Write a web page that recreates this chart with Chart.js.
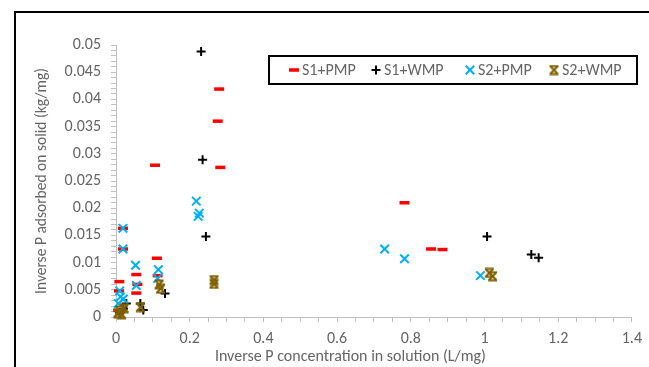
<!DOCTYPE html>
<html>
<head>
<meta charset="utf-8">
<script src="https://cdn.jsdelivr.net/npm/chart.js@4"></script>
<style>
	body { margin: 0; background: #fff; overflow: hidden; }
	#wrap { position: relative; width: 649px; height: 367px; overflow: hidden; }
	#frame { position: absolute; left: 14px; top: 11px; width: 700px; height: 400px; border-left: 2px solid #000; border-top: 2px solid #000; }
	#chart { position: absolute; left: 0; top: 0; }
</style>
</head>
<body>
<div id="wrap">
	<div id="frame"></div>
	<canvas id="chart" width="649" height="367"></canvas>
</div>
<script>
// series (x = 1/C, y = 1/q)
const seriesNames = ["S1+PMP", "S1+WMP", "S2+PMP", "S2+WMP"];

const s1pmpX = [0.280, 0.276, 0.283, 0.106, 0.783, 0.855, 0.886, 0.111, 0.113, 0.055, 0.058, 0.055, 0.009, 0.008, 0.019, 0.019, 0.006];
const s1pmpY = [0.0419, 0.0360, 0.0275, 0.0279, 0.0210, 0.0125, 0.0124, 0.0108, 0.0076, 0.0078, 0.0060, 0.0044, 0.0065, 0.0048, 0.0163, 0.0125, 0.0012];

const s1wmpX = [0.231, 0.235, 0.244, 1.007, 1.127, 1.147, 0.133, 0.066, 0.074, 0.028, 0.010, 0.020];
const s1wmpY = [0.0488, 0.0289, 0.0148, 0.0148, 0.0115, 0.0109, 0.0043, 0.0025, 0.0013, 0.0025, 0.0008, 0.0015];

const s2pmpX = [0.218, 0.226, 0.223, 0.729, 0.783, 0.989, 0.019, 0.019, 0.053, 0.055, 0.115, 0.113, 0.010, 0.012, 0.020, 0.006];
const s2pmpY = [0.0213, 0.0191, 0.0185, 0.0125, 0.0107, 0.0076, 0.0163, 0.0125, 0.0095, 0.0058, 0.0087, 0.0071, 0.0048, 0.0037, 0.0033, 0.0025];

const s2wmpX = [0.266, 0.266, 1.013, 1.022, 0.117, 0.121, 0.066, 0.010, 0.022, 0.005, 0.015];
const s2wmpY = [0.0068, 0.0061, 0.0081, 0.0075, 0.0060, 0.0052, 0.0018, 0.0012, 0.0016, 0.0007, 0.0005];

const xMajorTicks = [0, 0.2, 0.4, 0.6, 0.8, 1, 1.2, 1.4];
const yMajorTicks = [0, 0.005, 0.01, 0.015, 0.02, 0.025, 0.03, 0.035, 0.04, 0.045, 0.05];

const FONT = "Carlito, 'Liberation Sans', Arial, sans-serif";
const GREY_TEXT = "#656565";
const AXIS_GREY = "#BFBFBF";

function toPoints(xs, ys) {
	return xs.map((x, i) => ({ x: x, y: ys[i] }));
}

// excel-like "star" marker: an X with bars on top and bottom
function makeStarMarker(color) {
	const c = document.createElement("canvas");
	c.width = 11;
	c.height = 11;
	const g = c.getContext("2d");
	g.strokeStyle = color;
	g.lineWidth = 2;
	g.beginPath();
	g.moveTo(1, 1.5); g.lineTo(10, 1.5);
	g.moveTo(1, 9.5); g.lineTo(10, 9.5);
	g.moveTo(2, 2); g.lineTo(9, 9);
	g.moveTo(9, 2); g.lineTo(2, 9);
	g.stroke();
	return c;
}

function isMajor(value, list) {
	return list.some((t) => Math.abs(t - value) < 1e-9);
}

// boxed legend sitting inside the plot, drawn by hand
const boxLegend = {
	id: "boxLegend",
	afterDraw(chart) {
		const ctx = chart.ctx;
		ctx.save();
		ctx.fillStyle = "#fff";
		ctx.fillRect(269, 56, 368, 28);
		ctx.strokeStyle = "#000";
		ctx.lineWidth = 2;
		ctx.strokeRect(269, 56, 368, 28);

		const textX = [302, 384, 478, 562];
		ctx.font = "16px " + FONT;
		ctx.textBaseline = "middle";
		ctx.textAlign = "left";
		chart.data.datasets.forEach((ds, i) => {
			ctx.strokeStyle = ds.borderColor;
			ctx.fillStyle = ds.borderColor;
			ctx.lineWidth = ds.pointBorderWidth;
			Chart.helpers.drawPoint(ctx, {
				pointStyle: ds.pointStyle,
				rotation: 0,
				radius: ds.pointRadius,
				borderWidth: ds.pointBorderWidth
			}, textX[i] - 8, 70);
			ctx.fillStyle = GREY_TEXT;
			ctx.fillText(ds.label, textX[i], 70.5);
		});
		ctx.restore();
	}
};

const ctx = document.getElementById("chart").getContext("2d");
new Chart(ctx, {
	type: "scatter",
	data: {
		datasets: [
			{
				label: seriesNames[0],
				data: toPoints(s1pmpX, s1pmpY),
				pointStyle: "line",
				pointRadius: 5,
				pointBorderWidth: 3.5,
				borderColor: "#FF0000",
				backgroundColor: "#FF0000",
				order: 4,
				clip: false
			},
			{
				label: seriesNames[1],
				data: toPoints(s1wmpX, s1wmpY),
				pointStyle: "cross",
				pointRadius: 4.5,
				pointBorderWidth: 2,
				borderColor: "#000000",
				backgroundColor: "#000000",
				order: 3,
				clip: false
			},
			{
				label: seriesNames[2],
				data: toPoints(s2pmpX, s2pmpY),
				pointStyle: "crossRot",
				pointRadius: 6,
				pointBorderWidth: 2,
				borderColor: "#00B0F0",
				backgroundColor: "#00B0F0",
				order: 2,
				clip: false
			},
			{
				label: seriesNames[3],
				data: toPoints(s2wmpX, s2wmpY),
				pointStyle: makeStarMarker("#7F6000"),
				pointRadius: 5,
				pointBorderWidth: 2,
				borderColor: "#7F6000",
				backgroundColor: "#7F6000",
				order: 1,
				clip: false
			}
		]
	},
	options: {
		responsive: false,
		animation: false,
		devicePixelRatio: 1,
		layout: { padding: { left: 29, right: 17, top: 45, bottom: 0 } },
		plugins: {
			legend: { display: false },
			tooltip: { enabled: false }
		},
		scales: {
			x: {
				type: "linear",
				min: 0,
				max: 1.4,
				afterFit: (scale) => { scale.height = 50; },
				border: { display: true, color: AXIS_GREY, width: 1 },
				grid: { drawOnChartArea: false, drawTicks: true, tickLength: 5, color: AXIS_GREY },
				ticks: {
					stepSize: 0.05,
					autoSkip: false,
					maxRotation: 0,
					padding: 7,
					color: GREY_TEXT,
					font: { family: FONT, size: 16 },
					callback: (v) => isMajor(v, xMajorTicks) ? String(+v.toFixed(2)) : ""
				},
				title: {
					display: true,
					// trailing spaces pull the centred title left, like the original
					text: "Inverse P concentration in solution (L/mg)" + "\u00A0".repeat(13),
					color: GREY_TEXT,
					font: { family: FONT, size: 16 },
					padding: { top: 2, bottom: 0 }
				}
			},
			y: {
				type: "linear",
				min: 0,
				max: 0.05,
				afterFit: (scale) => { scale.width = 87; },
				border: { display: true, color: AXIS_GREY, width: 1 },
				grid: { drawOnChartArea: false, drawTicks: true, tickLength: 5, color: AXIS_GREY },
				ticks: {
					stepSize: 0.001,
					autoSkip: false,
					padding: 10,
					color: GREY_TEXT,
					font: { family: FONT, size: 16 },
					callback: (v) => isMajor(v, yMajorTicks) ? String(+v.toFixed(3)) : ""
				},
				title: {
					display: true,
					text: "Inverse P adsorbed on solid (kg/mg)",
					color: GREY_TEXT,
					font: { family: FONT, size: 15.5 },
					padding: 4
				}
			}
		}
	},
	plugins: [boxLegend]
});
</script>
</body>
</html>
